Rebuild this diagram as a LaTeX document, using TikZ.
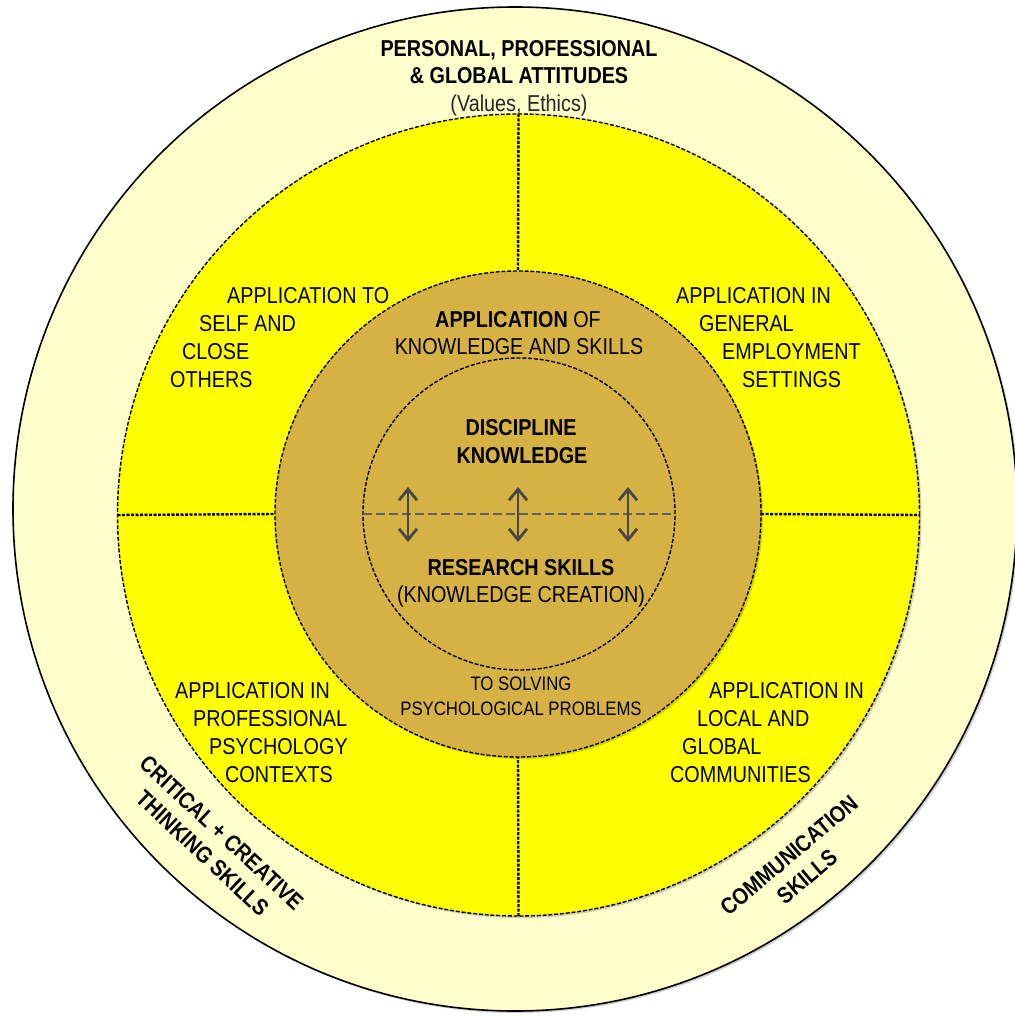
\documentclass[tikz,border=0pt]{standalone}
\usepackage{fontspec}
\setmainfont{Liberation Sans}[FakeStretch=0.86]
\usetikzlibrary{arrows.meta,shadows}
\definecolor{ringc}{RGB}{255,255,204}
\definecolor{yelc}{RGB}{255,255,0}
\definecolor{brnc}{RGB}{214,178,68}
\definecolor{arrc}{RGB}{70,70,70}
\definecolor{midc}{RGB}{95,95,95}
\begin{document}
\begin{tikzpicture}[x=1pt,y=-1pt,
  disc/.style={circle,inner sep=0pt,outer sep=0pt},
  shad/.style={drop shadow={shadow xshift=2pt,shadow yshift=-2pt,opacity=0.18,fill=black}},
  ringline/.style={draw=black,dash pattern=on 4pt off 1.8pt,line width=1.4pt},
  divider/.style={draw=black,dash pattern=on 3pt off 1.5pt,line width=2.4pt},
  midline/.style={draw=midc,dash pattern=on 9pt off 4pt,line width=2.6pt},
  twoway/.style={draw=arrc,line width=2.8pt,
    {Straight Barb[length=11pt,width=18pt,line width=2.8pt]}-{Straight Barb[length=11pt,width=18pt,line width=2.8pt]}},
  lab/.style={font=\fontsize{23}{27}\selectfont,inner sep=0pt,anchor=base west},
  clab/.style={font=\fontsize{23}{27}\selectfont,inner sep=0pt,anchor=base},
  blab/.style={font=\fontsize{23}{27}\selectfont\bfseries,inner sep=0pt,anchor=base},
  slab/.style={font=\fontsize{19.5}{24}\selectfont,inner sep=0pt,anchor=base},
  rlab/.style={font=\fontsize{23}{28}\selectfont\bfseries,inner sep=0pt,anchor=center,align=center}]
\useasboundingbox (0,0) rectangle (1014,1016);
\fill[white] (0,0) rectangle (1014,1016);

% circles
\node[disc,minimum size=1004pt,draw=black,line width=1.6pt,fill=ringc,shad] (outer) at (515,509) {};
\node[disc,minimum size=802pt,ringline,fill=yelc,shad] (yel) at (518.5,515) {};
\node[disc,minimum size=486pt,ringline,fill=brnc,shad] (brn) at (518,514) {};
\node[disc,minimum size=312pt,ringline,fill=brnc] (inn) at (519,514) {};

% dividers
\draw[divider] (yel.north) -- (brn.north);
\draw[divider] (yel.-90.5) -- (brn.-90.7);
\draw[divider] (yel.west) -- (brn.west);
\draw[divider] (brn.east) -- (yel.east);

% middle dashed line and arrows
\draw[midline] (inn.west) -- (inn.east);
\coordinate (a1t) at (408,487); \coordinate (a1b) at (408,542);
\coordinate (a2t) at (518,487); \coordinate (a2b) at (518,542);
\coordinate (a3t) at (628,487); \coordinate (a3b) at (628,542);
\draw[twoway] (a1t) -- (a1b);
\draw[twoway] (a2t) -- (a2b);
\draw[twoway] (a3t) -- (a3b);

% top outer ring text
\node[blab] (t1) at (519,57) {PERSONAL, PROFESSIONAL};
\node[blab] (t2) at (519,84) {\& GLOBAL ATTITUDES};
\node[clab,text=black!85] (t3) at (519,112) {(Values, Ethics)};

% top-left quadrant
\node[lab] (tl1) at (227,303) {APPLICATION TO};
\node[lab] (tl2) at (199,331) {SELF AND};
\node[lab] (tl3) at (182,359) {CLOSE};
\node[lab] (tl4) at (170,387) {OTHERS};

% top-right quadrant
\node[lab] (tr1) at (676,303) {APPLICATION IN};
\node[lab] (tr2) at (699,331) {GENERAL};
\node[lab] (tr3) at (722,359) {EMPLOYMENT};
\node[lab] (tr4) at (742,387) {SETTINGS};

% bottom-left quadrant
\node[lab] (bl1) at (175,698) {APPLICATION IN};
\node[lab] (bl2) at (193,726) {PROFESSIONAL};
\node[lab] (bl3) at (209,754) {PSYCHOLOGY};
\node[lab] (bl4) at (225,782) {CONTEXTS};

% bottom-right quadrant
\node[lab] (br1) at (709,698) {APPLICATION IN};
\node[lab] (br2) at (697,726) {LOCAL AND};
\node[lab] (br3) at (682,754) {GLOBAL};
\node[lab] (br4) at (670,782) {COMMUNITIES};

% brown ring
\node[clab] (ap1) at (518,327) {\textbf{APPLICATION} OF};
\node[clab] (ap2) at (519,354) {KNOWLEDGE AND SKILLS};
\node[slab] (so1) at (521,690) {TO SOLVING};
\node[slab] (so2) at (521,715) {PSYCHOLOGICAL PROBLEMS};

% inner circle
\node[blab] (dk1) at (521,435) {DISCIPLINE};
\node[blab] (dk2) at (522,463) {KNOWLEDGE};
\node[blab] (rs1) at (521,575) {RESEARCH SKILLS};
\node[clab] (rs2) at (521,602) {(KNOWLEDGE CREATION)};

% rotated labels in the outer ring
\node[rlab,rotate=-43] (crit) at (212,843) {CRITICAL + CREATIVE\\THINKING SKILLS};
\node[rlab,rotate=40] (comm) at (798,866) {COMMUNICATION\\SKILLS\hspace{32pt}};
\end{tikzpicture}
\end{document}
